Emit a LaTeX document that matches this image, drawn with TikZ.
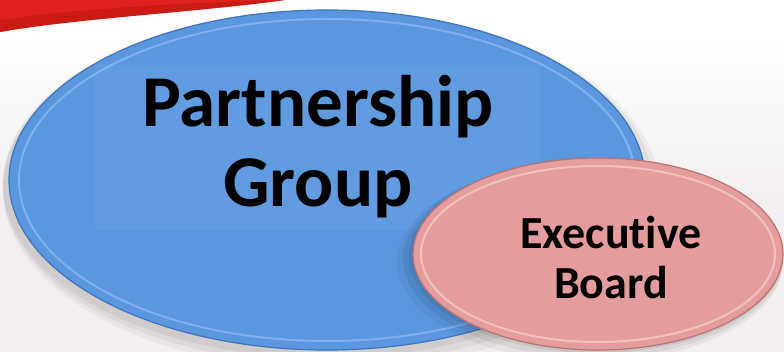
\documentclass[tikz,border=0pt]{standalone}
\usepackage{fontspec}
\setmainfont{Carlito}[Ligatures=NoCommon]
\usetikzlibrary{shapes.geometric}
\definecolor{bgc}{HTML}{F2EFEE}
\definecolor{redband}{HTML}{E0221C}
\definecolor{redband2}{HTML}{B8120E}
\definecolor{bluefill}{HTML}{5B97DF}
\definecolor{bluerim}{HTML}{3F74BC}
\definecolor{bluehi}{HTML}{8FBDF2}
\definecolor{pinkfill}{HTML}{E49C9C}
\definecolor{pinkrim}{HTML}{B97272}
\definecolor{pinkhi}{HTML}{F6CACA}
\tikzset{
  big/.style={ellipse, inner sep=0pt, outer sep=0pt},
  lbl/.style={align=center, font=\bfseries, text=black, inner sep=0pt},
}
\begin{document}
\begin{tikzpicture}[x=1pt,y=-1pt]
\useasboundingbox (0,0) rectangle (784,352);
% background
\fill[bgc] (0,0) rectangle (784,352);
\fill[white] (0,0) rectangle (784,120);
\shade[top color=white, bottom color=bgc] (0,40) rectangle (784,200);
% red band
\fill[redband] (0,0) -- (285,0) .. controls (200,12) and (80,18) .. (0,32) -- cycle;
\fill[redband2, opacity=0.5] (0,20) .. controls (80,8) and (200,2) .. (285,0) .. controls (200,12) and (80,18) .. (0,32) -- cycle;
% shadows
\foreach \o/\op in {10/0.04,7/0.05,4/0.06}{
  \fill[black, opacity=\op] (327+\o-6,180+\o) ellipse [x radius=318+\o, y radius=170+\o];
}
% blue ellipse
\node[big, draw=bluerim, line width=1.2pt, fill=bluefill, minimum width=636pt, minimum height=340pt] (pg) at (327,180) {};
\draw[bluehi, line width=2pt, opacity=0.7] (327,180) ellipse [x radius=308, y radius=161];
\draw[bluefill, line width=3pt] (327,180) ellipse [x radius=303, y radius=156];
\fill[white, opacity=0.04] (95,65) rectangle (540,230);
% pink shadow
\foreach \o/\op in {8/0.05,5/0.06,2/0.07}{
  \fill[black, opacity=\op] (598-\o,254+\o) ellipse [x radius=185+\o, y radius=96+\o/2];
}
% pink ellipse
\node[big, draw=pinkrim, line width=1.2pt, fill=pinkfill, minimum width=370pt, minimum height=192pt] (eb) at (598,254) {};
\draw[pinkhi, line width=2pt, opacity=0.8] (598,254) ellipse [x radius=177, y radius=88];
\draw[pinkfill, line width=3pt] (598,254) ellipse [x radius=172, y radius=83];
% labels
\node[lbl, font=\fontsize{73}{80}\selectfont\bfseries] (pgt) at (318,147) {Partnership\\Group};
\node[lbl, font=\fontsize{46}{50}\selectfont\bfseries] (ebt) at (611,258) {Executive\\Board};
\end{tikzpicture}
\end{document}
